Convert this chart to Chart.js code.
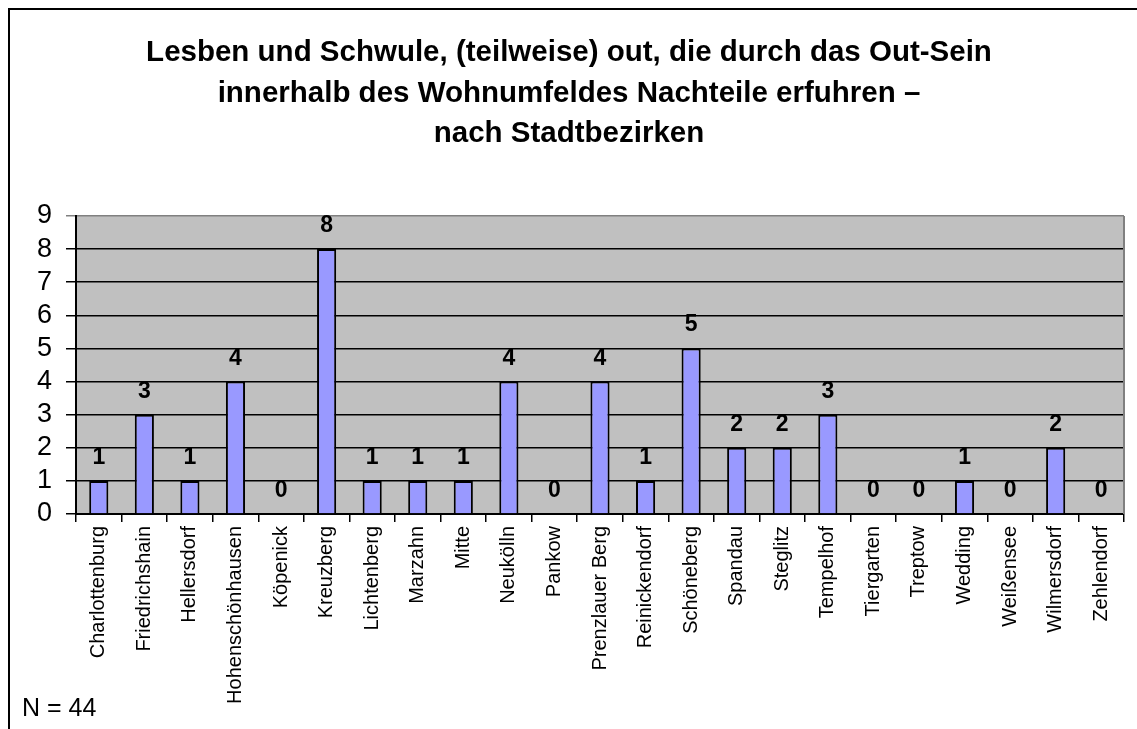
<!DOCTYPE html>
<html>
<head>
<meta charset="utf-8">
<script src="https://cdn.jsdelivr.net/npm/chart.js@4.4.1/dist/chart.umd.min.js"></script>
<style>
  html, body { margin: 0; padding: 0; background: #fff; }
  #wrap { width: 1137px; height: 729px; }
</style>
</head>
<body>
<div id="wrap"><canvas id="bezirkeChart" width="1137" height="729"></canvas></div>
<script>
/* ===== DATA ===== */
const bezirke = [
  "Charlottenburg", "Friedrichshain", "Hellersdorf", "Hohenschönhausen", "Köpenick",
  "Kreuzberg", "Lichtenberg", "Marzahn", "Mitte", "Neukölln", "Pankow",
  "Prenzlauer Berg", "Reinickendorf", "Schöneberg", "Spandau", "Steglitz",
  "Tempelhof", "Tiergarten", "Treptow", "Wedding", "Weißensee", "Wilmersdorf", "Zehlendorf"
];
const anzahl = [1, 3, 1, 4, 0, 8, 1, 1, 1, 4, 0, 4, 1, 5, 2, 2, 3, 0, 0, 1, 0, 2, 0];
const yTicks = [0, 1, 2, 3, 4, 5, 6, 7, 8, 9];

const titelZeilen = [
  "Lesben und Schwule, (teilweise) out, die durch das Out-Sein",
  "innerhalb des Wohnumfeldes Nachteile erfuhren –",
  "nach Stadtbezirken"
];
const fussnote = "N = 44";

const FONT = "'Liberation Sans', Arial, sans-serif";

/* ===== FRAME, TITLE, PLOT BACKGROUND ===== */
const rahmenPlugin = {
  id: "rahmen",
  beforeDraw(chart) {
    const ctx = chart.ctx;
    const a = chart.chartArea;
    ctx.save();
    // outer frame (only left/top edges fall inside the canvas)
    ctx.strokeStyle = "#000";
    ctx.lineWidth = 2;
    ctx.strokeRect(9, 9, 1300, 900);
    // grey plot area
    ctx.fillStyle = "#C0C0C0";
    ctx.fillRect(a.left, a.top, a.right - a.left, a.bottom - a.top);
    // title
    ctx.fillStyle = "#000";
    ctx.font = "bold 29.5px " + FONT;
    ctx.textAlign = "center";
    ctx.textBaseline = "middle";
    titelZeilen.forEach((z, i) => ctx.fillText(z, 569, 53 + i * 40.5));
    // footnote
    ctx.font = "25px " + FONT;
    ctx.textAlign = "left";
    ctx.textBaseline = "alphabetic";
    ctx.fillText(fussnote, 22, 716);
    ctx.restore();
  },
  afterDraw(chart) {
    const ctx = chart.ctx;
    const a = chart.chartArea;
    ctx.save();
    ctx.strokeStyle = "#808080";
    ctx.lineWidth = 2;
    ctx.beginPath();
    ctx.moveTo(a.right, a.top);
    ctx.lineTo(a.right, a.bottom);
    ctx.stroke();
    ctx.restore();
  }
};

/* ===== VALUE LABELS ===== */
const wertePlugin = {
  id: "werte",
  afterDatasetsDraw(chart) {
    const ctx = chart.ctx;
    const meta = chart.getDatasetMeta(0);
    ctx.save();
    ctx.fillStyle = "#000";
    ctx.font = "bold 23px " + FONT;
    ctx.textAlign = "center";
    ctx.textBaseline = "alphabetic";
    meta.data.forEach((bar, i) => {
      ctx.fillText(String(anzahl[i]), bar.x, bar.y - 17);
    });
    ctx.restore();
  }
};

new Chart(document.getElementById("bezirkeChart"), {
  type: "bar",
  data: {
    labels: bezirke,
    datasets: [{
      data: anzahl,
      backgroundColor: "#9999FF",
      borderColor: "#000",
      borderWidth: 2,
      categoryPercentage: 1,
      barPercentage: 0.42
    }]
  },
  options: {
    responsive: false,
    animation: false,
    layout: { padding: { top: 216, right: 13, left: 0, bottom: 0 } },
    plugins: {
      legend: { display: false },
      title: { display: false },
      tooltip: { enabled: false }
    },
    scales: {
      x: {
        offset: true,
        grid: {
          offset: true,
          drawOnChartArea: false,
          drawTicks: true,
          tickLength: 8,
          color: "#000",
          lineWidth: 1.5
        },
        border: { color: "#000", width: 2 },
        ticks: {
          color: "#000",
          font: { family: FONT, size: 20 },
          minRotation: 90,
          maxRotation: 90,
          autoSkip: false,
          padding: 4
        },
        afterFit(scale) { scale.height = 215; }
      },
      y: {
        min: 0,
        max: 9,
        afterBuildTicks(scale) { scale.ticks = yTicks.map(v => ({ value: v })); },
        grid: {
          color: ctx => (ctx.tick && ctx.tick.value === 9 ? "#808080" : "#000"),
          lineWidth: 1.5,
          tickLength: 10
        },
        border: { color: "#000", width: 2 },
        ticks: {
          color: "#000",
          font: { family: FONT, size: 27 },
          autoSkip: false,
          padding: 14
        },
        afterFit(scale) { scale.width = 76; }
      }
    }
  },
  plugins: [rahmenPlugin, wertePlugin]
});
</script>
</body>
</html>
